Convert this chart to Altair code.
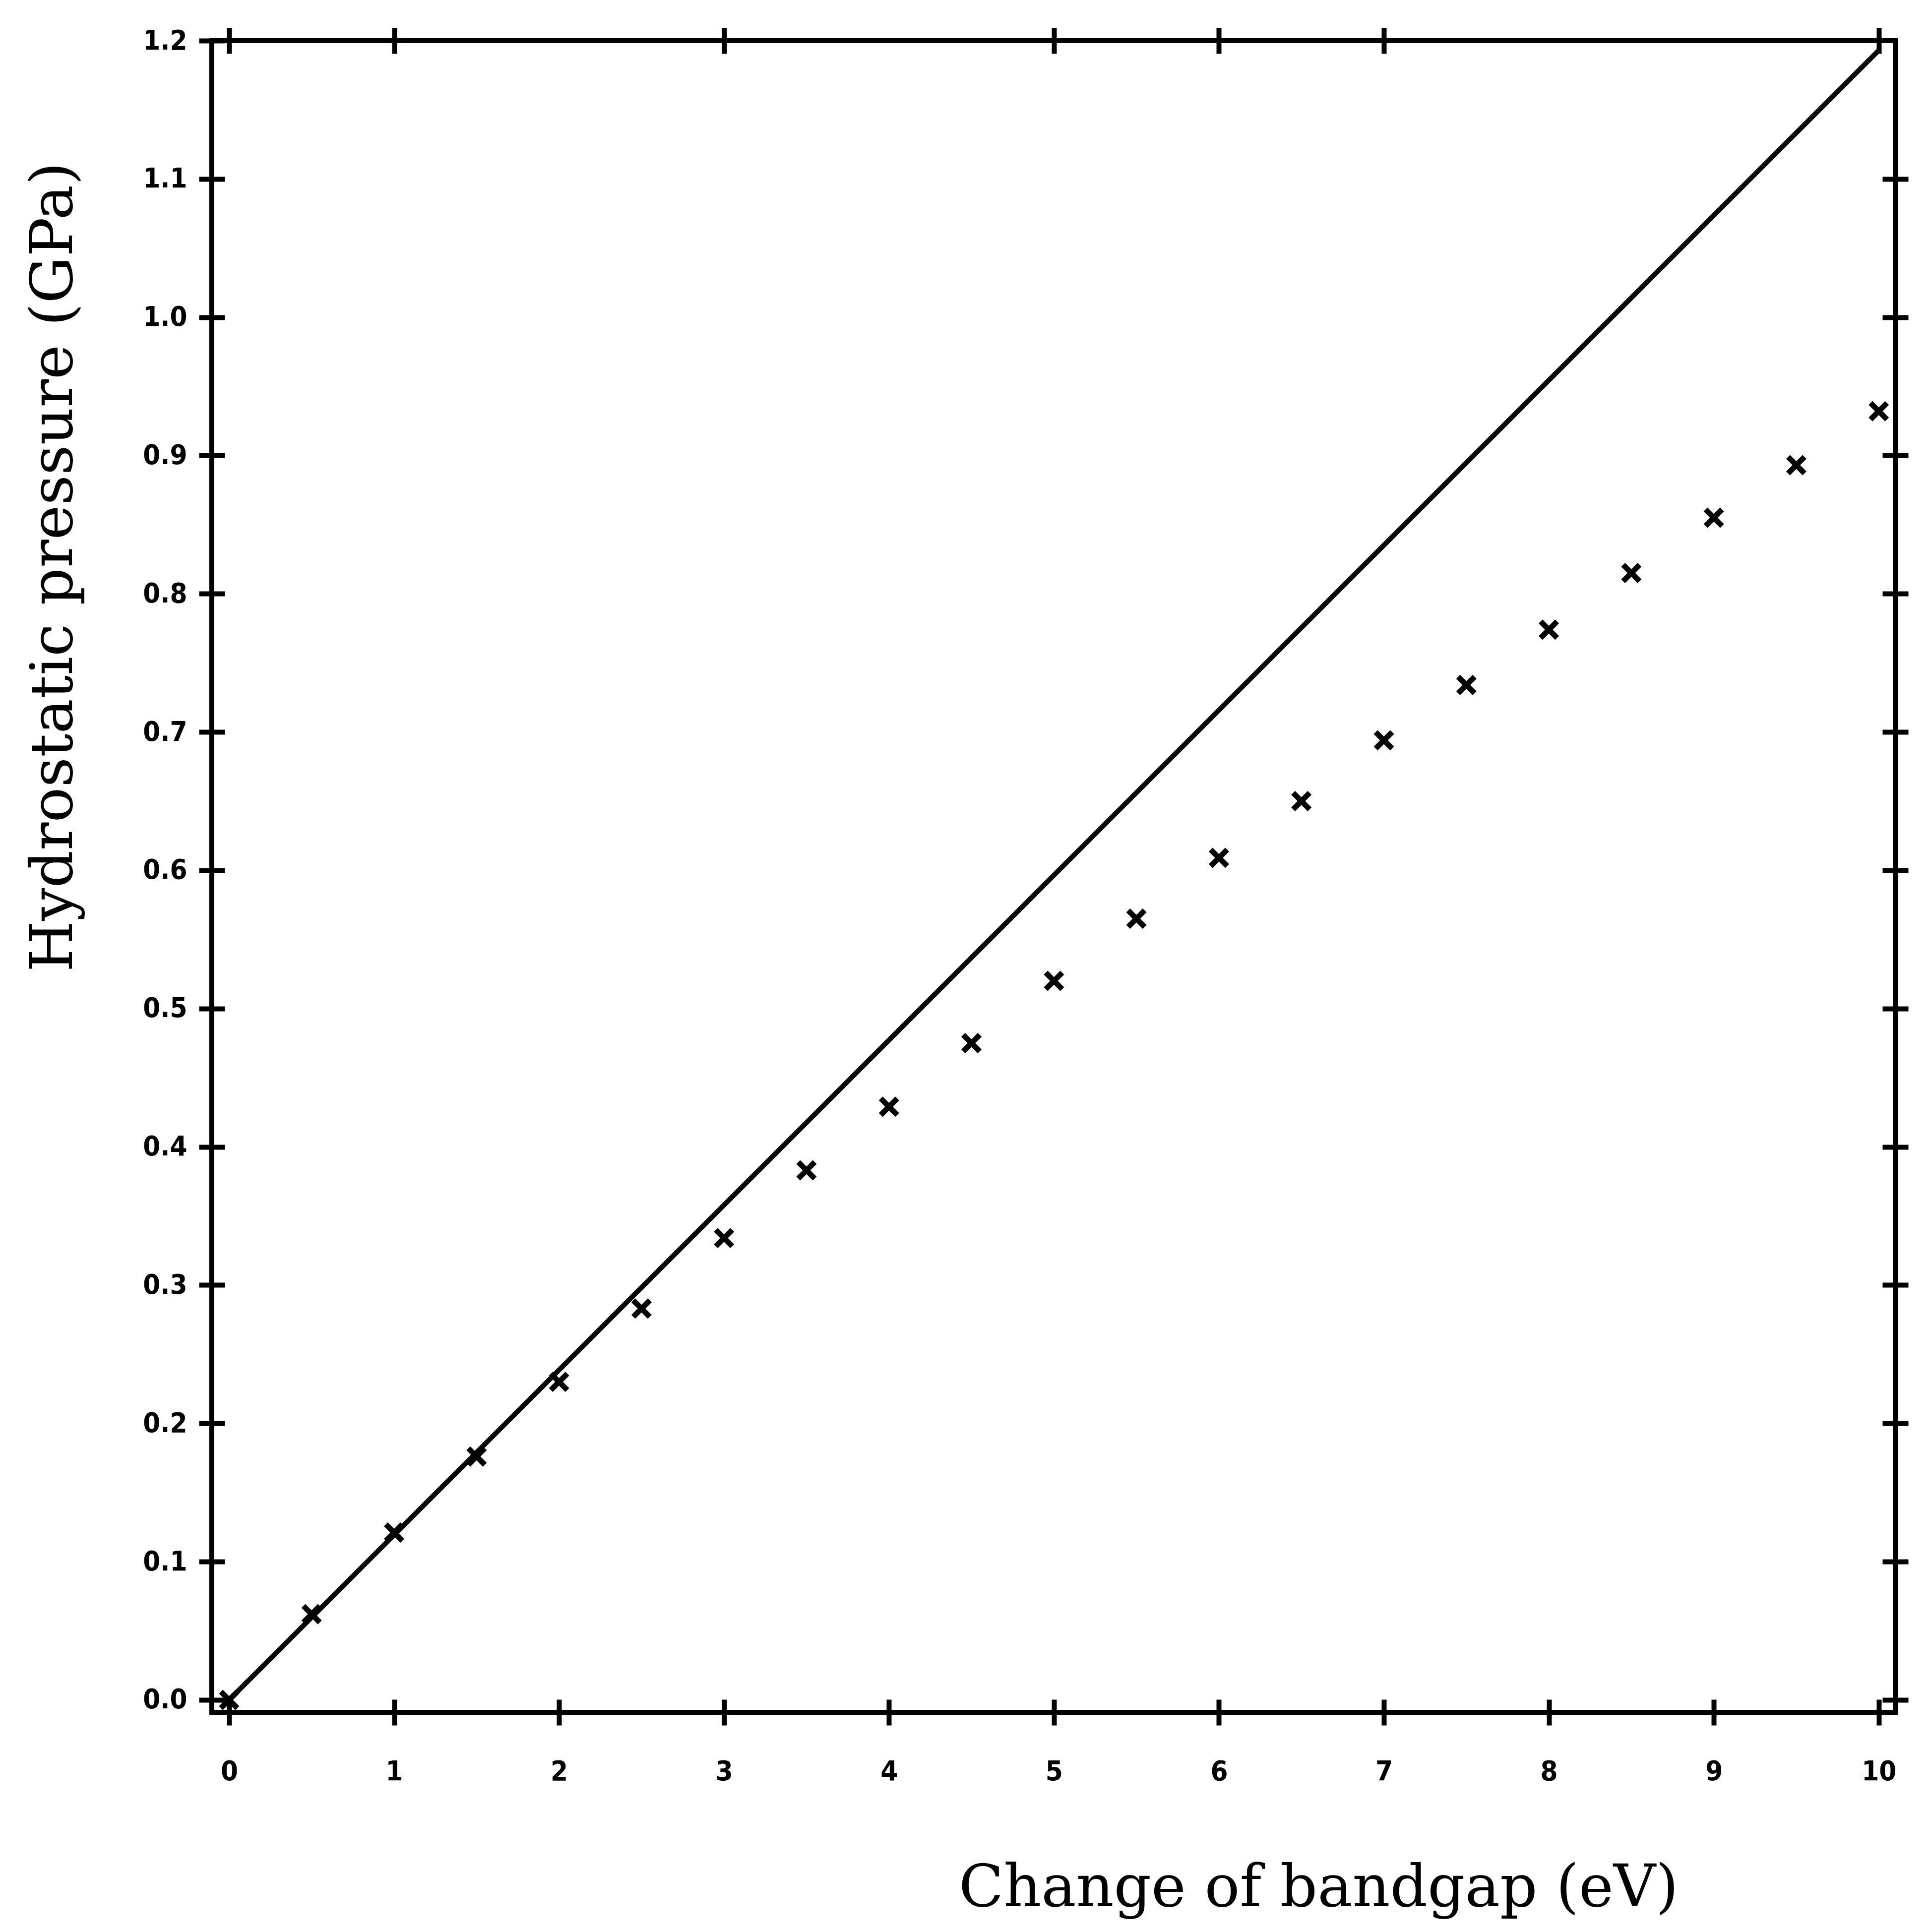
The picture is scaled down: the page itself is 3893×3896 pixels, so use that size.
import altair as alt
import pandas as pd

# Measured data (x markers)
bandgap = [0, 0.5, 1, 1.5, 2, 2.5, 3, 3.5, 4, 4.5, 5, 5.5, 6, 6.5, 7, 7.5, 8, 8.5, 9, 9.5, 10]
pressure = [0.0, 0.062, 0.121, 0.176, 0.230, 0.283, 0.334, 0.383, 0.429, 0.475, 0.520,
            0.565, 0.609, 0.650, 0.694, 0.734, 0.774, 0.815, 0.855, 0.893, 0.932]

# Straight reference line
line_x = [0, 10]
line_y = [0.0, 1.193]

# Tick values
x_ticks = [0, 1, 2, 3, 4, 5, 6, 7, 8, 9, 10]
x_top_ticks = [0, 1, 3, 5, 6, 7, 10]
y_ticks = [0.0, 0.1, 0.2, 0.3, 0.4, 0.5, 0.6, 0.7, 0.8, 0.9, 1.0, 1.1, 1.2]

W, H = 3394, 3371

pts = pd.DataFrame({"x": bandgap, "y": pressure})
ln = pd.DataFrame({"x": line_x, "y": line_y})

xs = alt.Scale(domain=[-0.105, 10.1], nice=False, zero=False)
ys = alt.Scale(domain=[-0.009, 1.2], nice=False, zero=False)

LABEL_FONT = "DejaVu Sans Condensed, DejaVu Sans"
tick_common = dict(ticks=True, tickSize=26, tickWidth=10, tickColor="black",
                   domain=False, grid=False)


def ax_plain(orient, values, offset=0):
    return alt.Axis(orient=orient, values=values, labels=False, title=None,
                    offset=offset, **tick_common)


x_main = alt.Axis(orient="bottom", values=x_ticks, format="d", labelFont=LABEL_FONT,
                  labelFontSize=56, labelFontWeight="bold", labelColor="black",
                  labelPadding=66, labelFlush=False,
                  title="Change of bandgap (eV)", titleFont="DejaVu Serif",
                  titleFontSize=118, titleFontWeight="normal", titleColor="black",
                  titleX=2231, titleY=355, titleAlign="center", titleBaseline="middle",
                  **tick_common)
y_main = alt.Axis(orient="left", values=y_ticks, format=".1f", labelFont=LABEL_FONT,
                  labelFontSize=56, labelFontWeight="bold", labelColor="black",
                  labelPadding=24, labelFlush=False,
                  title="Hydrostatic pressure (GPa)", titleFont="DejaVu Serif",
                  titleFontSize=118, titleFontWeight="normal", titleColor="black",
                  titleX=-318, titleY=1061, titleAlign="center", titleBaseline="middle",
                  titleAngle=270,
                  **tick_common)

marker = "M-1,-1L1,1M-1,1L1,-1"

layer_a = alt.Chart(pts).mark_point(shape=marker, size=1100, strokeWidth=11,
                                    color="black", filled=False, opacity=1).encode(
    x=alt.X("x:Q", scale=xs, axis=x_main),
    y=alt.Y("y:Q", scale=ys, axis=y_main),
)

layer_b = alt.Chart(ln).mark_line(color="black", strokeWidth=10).encode(
    x=alt.X("x:Q", scale=xs, axis=ax_plain("top", x_ticks, -H)),
    y=alt.Y("y:Q", scale=ys, axis=ax_plain("right", y_ticks, -W)),
)

layer_c = alt.Chart(pts).mark_point(opacity=0).encode(
    x=alt.X("x:Q", scale=xs, axis=ax_plain("top", x_top_ticks)),
    y=alt.Y("y:Q", scale=ys, axis=ax_plain("right", y_ticks[:-1])),
)

layer_d = alt.Chart(pts).mark_point(opacity=0).encode(
    x=alt.X("x:Q", scale=xs, axis=ax_plain("bottom", x_top_ticks, -H)),
    y=alt.Y("y:Q", scale=ys, axis=ax_plain("left", y_ticks[:-1], -W)),
)

chart = alt.layer(layer_b, layer_a, layer_c, layer_d).resolve_axis(
    x="independent", y="independent"
).properties(
    width=W, height=H,
    autosize=alt.AutoSizeParams(type="none"),
    padding={"left": 419, "top": 74, "right": 60, "bottom": 440},
    background="white",
).configure_view(stroke="black", strokeWidth=10)

chart.save("out.html", embed_options={"renderer": "svg", "actions": False})
